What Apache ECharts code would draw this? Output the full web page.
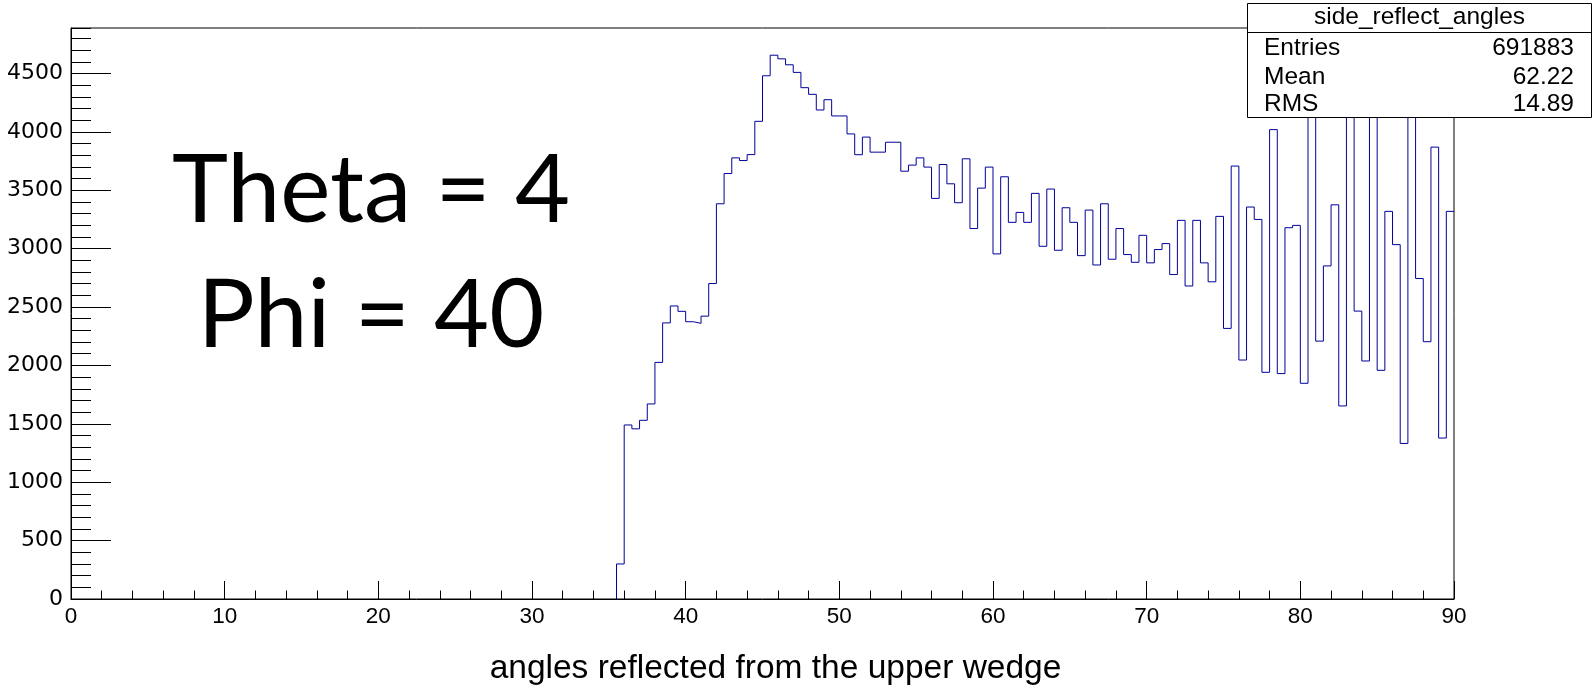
<!DOCTYPE html>
<html>
<head>
<meta charset="utf-8">
<title>side_reflect_angles</title>
<script src="https://cdn.jsdelivr.net/npm/echarts@6/dist/echarts.min.js"></script>
<style>
  html, body { margin: 0; padding: 0; background: #ffffff; }
  #chart { width: 1595px; height: 691px; }
</style>
</head>
<body>
<div id="chart"></div>
<script>
// Histogram: side_reflect_angles, 180 bins of 0.5 deg over [0, 90]
const xMin = 0;
const xMax = 90;
const binWidth = 0.5;
const yMax = 4889;

// Bin contents (bins below 35.5 deg are empty)
const emptyBins = 71;
const filledCounts = [
  300, 1490, 1457, 1530, 1670, 2026, 2364, 2509, 2463, 2374,
  2360, 2422, 2701, 3384, 3643, 3777, 3754, 3805, 4090, 4480,
  4656, 4625, 4574, 4509, 4378, 4321, 4187, 4275, 4136, 4136,
  3982, 3804, 3955, 3826, 3826, 3911, 3911, 3663, 3715, 3777,
  3698, 3430, 3720, 3555, 3393, 3769, 3172, 3518, 3698, 2955,
  3615, 3225, 3310, 3225, 3473, 3020, 3510, 2986, 3350, 3225,
  2940, 3330, 2860, 3384, 2909, 3172, 2949, 2883, 3114, 2878,
  2992, 3043, 2778, 3242, 2680, 3242, 2878, 2716, 3276, 2317,
  3707, 2046, 3356, 3250, 1941, 4019, 1930, 3179, 3199, 1847,
  4400, 2208, 2852, 3375, 1653, 4500, 2465, 2038, 4350, 1958,
  3319, 3034, 1332, 4450, 2744, 2203, 3869, 1378, 3319
];
const counts = new Array(emptyBins).fill(0).concat(filledCounts);

// Statistics box
const statTitle = 'side_reflect_angles';
const statNames = ['Entries', 'Mean', 'RMS'];
const statValues = ['691883', '62.22', '14.89'];

// Annotation text
const noteLines = ['Theta = 4', 'Phi = 40'];
const xTitle = 'angles reflected from the upper wedge';

// Build the step outline: one point at each bin's lower edge
const first = counts.findIndex(v => v > 0);
const outline = [[xMin + first * binWidth, 0]];
for (let i = first; i < counts.length; i++) {
  outline.push([xMin + i * binWidth, counts[i]]);
}
outline.push([xMax, counts[counts.length - 1]]);

const font = '"Liberation Sans", Arial, Helvetica, sans-serif';
const chart = echarts.init(document.getElementById('chart'), null, { renderer: 'canvas' });

const graphics = [
  {
    type: 'rect', z: 100,
    shape: { x: 1247.5, y: 3.5, width: 344, height: 114 },
    style: { fill: '#ffffff', stroke: '#000000', lineWidth: 1 }
  },
  {
    type: 'line', z: 101,
    shape: { x1: 1247.5, y1: 32.5, x2: 1591.5, y2: 32.5 },
    style: { stroke: '#000000', lineWidth: 1 }
  },
  {
    type: 'text', z: 102, x: 1419.5, y: 17.5,
    style: { text: statTitle, font: '24.5px ' + font, fill: '#000', align: 'center', verticalAlign: 'middle' }
  }
];
const rowY = [48.5, 77, 104.5];
statNames.forEach((name, i) => {
  graphics.push({
    type: 'text', z: 102, x: 1264, y: rowY[i],
    style: { text: name, font: '24.5px ' + font, fill: '#000', align: 'left', verticalAlign: 'middle' }
  });
  graphics.push({
    type: 'text', z: 102, x: 1574, y: rowY[i],
    style: { text: statValues[i], font: '24.5px ' + font, fill: '#000', align: 'right', verticalAlign: 'middle' }
  });
});
noteLines.forEach((line, i) => {
  graphics.push({
    type: 'text', z: 102, x: 371, y: 191 + i * 125,
    style: { text: line, font: '95px Lato, "Open Sans", sans-serif', fill: '#000', align: 'center', verticalAlign: 'middle' }
  });
});

chart.setOption({
  animation: false,
  backgroundColor: '#ffffff',
  grid: {
    left: 71, right: 141, top: 28, bottom: 90,
    show: true, borderColor: '#000000', borderWidth: 1, backgroundColor: 'transparent'
  },
  xAxis: {
    type: 'value', min: xMin, max: xMax, interval: 10, z: 10,
    name: xTitle, nameLocation: 'middle', nameGap: 53,
    nameTextStyle: { fontFamily: font, fontSize: 33.5, color: '#000', padding: [0, 0, 0, 26] },
    axisLine: { show: true, lineStyle: { color: '#000', width: 1 } },
    axisTick: { show: true, inside: true, length: 18, lineStyle: { color: '#000' } },
    minorTick: { show: true, splitNumber: 5, length: 8.5, lineStyle: { color: '#000' } },
    axisLabel: { fontFamily: font, fontSize: 22.5, color: '#000', margin: 6 },
    splitLine: { show: false },
    minorSplitLine: { show: false }
  },
  yAxis: [
    {
      type: 'value', min: 0, max: yMax, interval: 500, z: 10,
      axisLine: { show: true, lineStyle: { color: '#000', width: 1 } },
      axisTick: { show: true, inside: true, length: 40, lineStyle: { color: '#000' } },
      axisLabel: {
        fontFamily: '"DejaVu Sans", sans-serif', fontSize: 22, color: '#000', margin: 8, showMaxLabel: false,
        formatter: v => String(v)
      },
      splitLine: { show: false }
    },
    {
      type: 'value', min: 0, max: yMax, interval: 100, position: 'left', z: 10,
      axisLine: { show: false },
      axisTick: { show: true, inside: true, length: 20, lineStyle: { color: '#000' } },
      axisLabel: { show: false },
      splitLine: { show: false }
    }
  ],
  series: [{
    type: 'line',
    step: 'end',
    data: outline,
    symbol: 'none',
    showSymbol: false,
    clip: true,
    lineStyle: { color: '#000099', width: 1 },
    silent: true
  }],
  graphic: graphics
});
</script>
</body>
</html>
